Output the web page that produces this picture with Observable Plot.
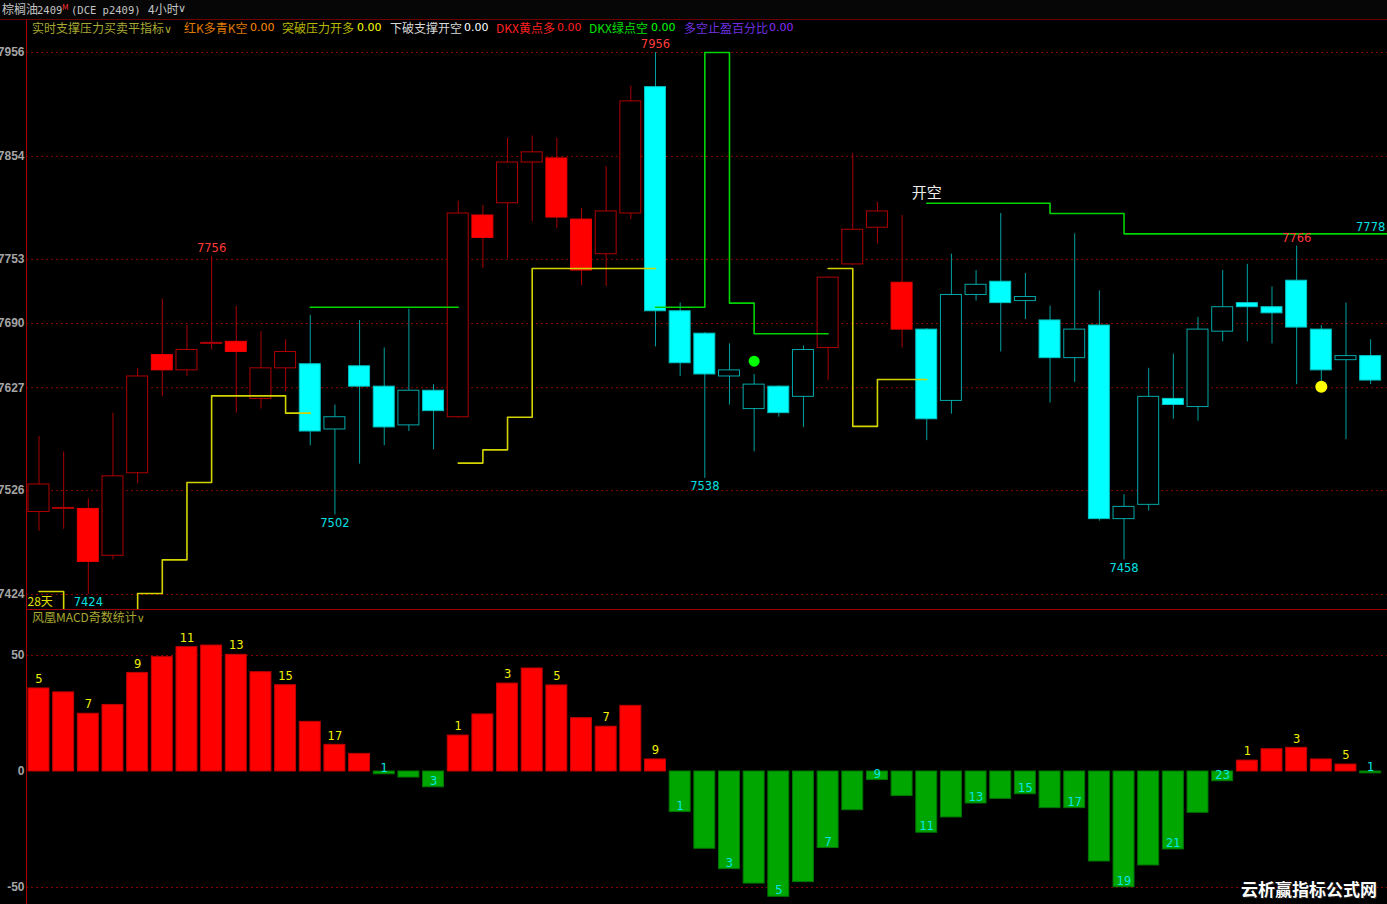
<!DOCTYPE html>
<html><head><meta charset="utf-8">
<script src="https://cdn.jsdelivr.net/npm/d3@7"></script>
<script src="https://cdn.jsdelivr.net/npm/@observablehq/plot@0.6"></script>
<style>
html,body{margin:0;padding:0;background:#000;}
body{width:1387px;height:904px;overflow:hidden;position:relative;font-family:"Noto Sans CJK SC","DejaVu Sans",sans-serif;}
.abs{position:absolute;white-space:nowrap;}
#header{position:absolute;left:0;top:0;width:1387px;height:19px;background:#060606;border-bottom:1px solid #6e0000;}
#header span{position:absolute;top:2px;font-size:12px;line-height:14px;color:#c4c4c4;white-space:nowrap;}
.leg{position:absolute;top:21px;font-size:12px;line-height:14px;white-space:nowrap;z-index:5;}
.num{font-family:"DejaVu Sans",sans-serif;font-size:11px;}
#wm{position:absolute;right:10px;top:876px;font-size:17px;font-weight:bold;color:#fff;letter-spacing:0px;text-shadow:0 0 2px #000,1px 1px 1px #333;z-index:6;}
</style></head><body>
<div id="header">
  <span style="left:2px">棕榈油</span>
  <span style="left:37px;font-family:'DejaVu Sans Mono',monospace;font-size:10.5px;top:3px">2409</span>
  <span style="left:62px;top:0px;font-size:8px;color:#ff3030">M</span>
  <span style="left:71px;font-family:'DejaVu Sans Mono',monospace;font-size:10.5px;top:3px">(DCE p2409)</span>
  <span style="left:148px">4小时</span>
  <span style="left:178px;font-family:'DejaVu Sans';font-size:11px">∨</span>
</div>
<div id="price" class="abs" style="left:0;top:20px"></div>
<div id="macd" class="abs" style="left:0;top:609px"></div>

<div class="leg" style="left:32px;color:#a8a830">实时支撑压力买卖平指标<span style="font-family:'DejaVu Sans';font-size:11px">∨</span></div>
<div class="leg" style="left:184px;color:#e07c00">红K多青K空</div>
<div class="leg num" style="left:250px;color:#ff8c00">0.00</div>
<div class="leg" style="left:282px;color:#b8b800">突破压力开多</div>
<div class="leg num" style="left:357px;color:#ffff00">0.00</div>
<div class="leg" style="left:390px;color:#d8d8d8">下破支撑开空</div>
<div class="leg num" style="left:464px;color:#ffffff">0.00</div>
<div class="leg" style="left:496px;color:#ff2020">DKX黄点多</div>
<div class="leg num" style="left:557px;color:#ff2020">0.00</div>
<div class="leg" style="left:589px;color:#00e000">DKX绿点空</div>
<div class="leg num" style="left:651px;color:#00ff00">0.00</div>
<div class="leg" style="left:684px;color:#7030e0">多空止盈百分比</div>
<div class="leg num" style="left:769px;color:#8a2cff">0.00</div>
<div class="leg" style="left:32px;top:610px;color:#a8a830">风凰MACD奇数统计<span style="font-family:'DejaVu Sans';font-size:11px">∨</span></div>
<div id="wm">云析赢指标公式网</div>

<script>
// ---------- data ----------
const open  = [7505,7508,7508,7462,7543,7659,7644,7670,7672,7616,7646,7650,7586,7648,7628,7590,7624,7598,7796,7808,7848,7852,7792,7758,7798,7922,7702,7680,7638,7606,7628,7618,7666,7748,7784,7730,7684,7614,7718,7731,7712,7693,7656,7688,7498,7512,7616,7608,7682,7710,7706,7732,7684,7654,7658];
const high  = [7579,7564,7518,7602,7646,7714,7688,7756,7707,7682,7674,7698,7610,7693,7666,7704,7630,7810,7806,7872,7874,7872,7803,7844,7923,7956,7710,7681,7670,7640,7629,7668,7736,7857,7809,7796,7685,7758,7742,7798,7739,7707,7778,7722,7522,7646,7660,7696,7742,7748,7726,7766,7688,7710,7674];
const low   = [7486,7488,7424,7458,7533,7618,7638,7664,7602,7606,7623,7570,7502,7552,7570,7584,7566,7597,7744,7754,7790,7783,7727,7726,7792,7667,7638,7538,7610,7564,7598,7588,7634,7747,7768,7666,7575,7601,7712,7662,7694,7612,7632,7496,7458,7506,7596,7594,7672,7672,7670,7630,7632,7576,7630];
const close = [7532,7509,7456,7540,7638,7644,7664,7671,7662,7646,7662,7584,7598,7628,7588,7624,7604,7798,7774,7848,7858,7794,7742,7800,7908,7702,7651,7640,7644,7630,7602,7664,7735,7782,7800,7684,7596,7718,7728,7710,7716,7656,7684,7498,7510,7618,7610,7684,7706,7706,7700,7686,7644,7658,7634];
// K colour state: r = 红K (long), c = 青K (short)
const kState = "rrrrrrrrrrrccccccrrrrrrrrcccccccrrrrccccccccccccccccccc".split("");
// support (yellow) and resistance (green) step lines
const yellowLine = [7427,7380,7380,7380,7425,7458,7534,7619,7619,7619,7602,7602,null,null,null,null,null,7553,7566,7598,7744,7744,7744,7744,7744,7744,null,null,null,null,null,null,7744,7589,7635,7635,7635,null,null,null,null,null,null,null,null,null,null,null,null,null,null,null,null,null,null];
const greenLine  = [null,null,null,null,null,null,null,null,null,null,null,7706,7706,7706,7706,7706,7706,7706,null,null,null,null,null,null,null,7706,7706,7956,7710,7680,7680,7680,7680,null,null,null,7808,7808,7808,7808,7808,7798,7798,7798,7778,7778,7778,7778,7778,7778,7778,7778,7778,7778,7778];
const hiIdx = [7, 25, 51];
const loIdx = [2, 12, 27, 44];
const greenDots  = [{i: 29, v: 7653}];
const yellowDots = [{i: 52, v: 7628}];
const signals = [{i: 36, text: "开空"}];
const dayLabel = "28天";
const priceTicks = [7424, 7526, 7627, 7690, 7753, 7854, 7956];
// 风凰MACD histogram
const macd = [35.8,34.1,24.9,28.7,42.5,49.3,53.6,54.3,50.3,42.8,37.2,21.4,11.5,7.6,-1.2,-2.6,-6.8,15.5,24.6,37.9,44.4,37.1,23.0,19.3,28.3,5.2,-17.5,-33.3,-42.1,-48.3,-54.0,-47.7,-33.0,-16.7,-3.7,-10.6,-26.4,-19.8,-13.8,-11.8,-9.8,-15.8,-15.8,-38.8,-49.9,-40.5,-33.6,-17.8,-4.2,4.7,9.6,10.2,5.2,3.0,-0.8];
const macdPriorRun = 4;   // red bars of the first run that lie before the visible window
const macdTicks = [-50, 0, 50];

// ---------- derived tables ----------
const idx = d3.range(open.length);
const candles = idx.map(i => ({i, open: open[i], high: high[i], low: low[i], close: close[i], k: kState[i]}));
const up = d => d.close >= d.open;
const yellowData = idx.map(i => ({i, v: yellowLine[i]}));
const lastG = greenLine[greenLine.length - 1];
const greenData = idx.map(i => ({i, v: greenLine[i]})).concat([{i: idx.length, v: lastG}]);
const bars = [];
let run = macdPriorRun, prevSign = Math.sign(macd[0]);
macd.forEach((v, i) => {
  const s = v >= 0 ? 1 : -1;
  run = s === prevSign ? run + 1 : 1;
  prevSign = s;
  bars.push({i, v, pos: s > 0, label: run % 2 === 1 ? String(run) : ""});
});

const W = 1387, HW = 0.425;
const xScale = {type: "linear", domain: [-0.507, 54.684], axis: null};
const baseStyle = {background: "#000", color: "#a4a4a4", fontFamily: "'Liberation Sans', Arial, sans-serif", fontSize: "12px", fontWeight: "bold", overflow: "visible"};
const numFont = "'DejaVu Sans', sans-serif";

const price = Plot.plot({
  width: W, height: 589,
  marginLeft: 26, marginRight: 0, marginTop: 0, marginBottom: 0,
  style: baseStyle,
  x: xScale,
  y: {domain: [7409.28, 7987.41], axis: null, label: null},
  color: {type: "identity"},
  marks: [
    Plot.ruleY(priceTicks, {stroke: "#8a0000", strokeDasharray: "2,3", strokeWidth: 1}),
    Plot.ruleX(candles, {x: "i", y1: "low", y2: "high", stroke: d => d.k === "r" ? "#a80000" : "#00a0a0", strokeWidth: 1}),
    Plot.rect(candles, {
      x1: d => d.i - HW, x2: d => d.i + HW, y1: "open", y2: "close",
      fill: d => up(d) ? "#000000" : (d.k === "r" ? "#ff0000" : "#00ffff"),
      stroke: d => d.k === "r" ? (up(d) ? "#b00000" : "#f00000") : (up(d) ? "#00a8a8" : "#00c4c4"),
      strokeWidth: 1
    }),
    Plot.line(yellowData, {x: "i", y: "v", curve: "step-after", stroke: "#d4d400", strokeWidth: 1.6, clip: true}),
    Plot.line(greenData, {x: "i", y: "v", curve: "step-after", stroke: "#00d400", strokeWidth: 1.6, clip: true}),
    Plot.dot(greenDots, {x: "i", y: "v", r: 5.5, fill: "#00ff00", stroke: null}),
    Plot.dot(yellowDots, {x: "i", y: "v", r: 6, fill: "#ffff00", stroke: null}),
    Plot.text(candles.filter(d => hiIdx.includes(d.i)), {x: "i", y: "high", text: d => String(d.high), dy: -8, fill: "#ff3a3a", fontFamily: numFont, fontSize: 11.5, fontWeight: "normal"}),
    Plot.text(candles.filter(d => loIdx.includes(d.i)), {x: "i", y: "low", text: d => String(d.low), dy: 8, fill: "#00e0e0", fontFamily: numFont, fontSize: 11.5, fontWeight: "normal"}),
    Plot.text(signals, {x: "i", y: d => greenLine[d.i], text: "text", dy: -10, fill: "#ececec", fontFamily: "'Noto Sans CJK SC'", fontSize: 15, fontWeight: "normal"}),
    Plot.text([{i: idx.length - 1, v: lastG}], {x: "i", y: "v", text: d => String(d.v), dy: -7, fill: "#00e0e0", fontFamily: numFont, fontSize: 11.5, fontWeight: "normal"}),
    Plot.text([dayLabel], {frameAnchor: "bottom-left", textAnchor: "start", lineAnchor: "bottom", dx: 1, dy: -4, fill: "#e0e000", fontFamily: "'Noto Sans CJK SC'", fontSize: 12, fontWeight: "normal"}),
    Plot.axisY({ticks: priceTicks, tickSize: 0, tickPadding: 2, tickFormat: d => String(d), fill: "#a4a4a4", label: null}),
    Plot.frame({anchor: "left", stroke: "#b00000"})
  ]
});
document.getElementById("price").append(price);

const macdPlot = Plot.plot({
  width: W, height: 295,
  marginLeft: 26, marginRight: 0, marginTop: 0, marginBottom: 0,
  style: baseStyle,
  x: xScale,
  y: {domain: [-57.33, 69.83], axis: null, label: null},
  color: {type: "identity"},
  marks: [
    Plot.ruleY([50, -50], {stroke: "#8a0000", strokeDasharray: "2,3", strokeWidth: 1}),
    Plot.rect(bars, {
      x1: d => d.i - HW, x2: d => d.i + HW, y1: 0, y2: "v",
      fill: d => d.pos ? "#ff0000" : "#00a600",
      stroke: d => d.pos ? "#c00000" : "#007400",
      strokeWidth: 1
    }),
    Plot.text(bars.filter(d => d.pos && d.label), {x: "i", y: "v", text: "label", dy: -9, fill: "#f0f000", fontFamily: numFont, fontSize: 11.5, fontWeight: "normal"}),
    Plot.text(bars.filter(d => !d.pos && d.label), {x: "i", y: "v", text: "label", dy: -6, fill: "#00e8e8", fontFamily: numFont, fontSize: 11.5, fontWeight: "normal"}),
    Plot.axisY({ticks: macdTicks, tickSize: 0, tickPadding: 2, tickFormat: d => String(d), fill: "#a4a4a4", label: null}),
    Plot.frame({anchor: "left", stroke: "#b00000"}),
    Plot.frame({anchor: "top", stroke: "#a00000"})
  ]
});
document.getElementById("macd").append(macdPlot);
</script>
</body></html>
